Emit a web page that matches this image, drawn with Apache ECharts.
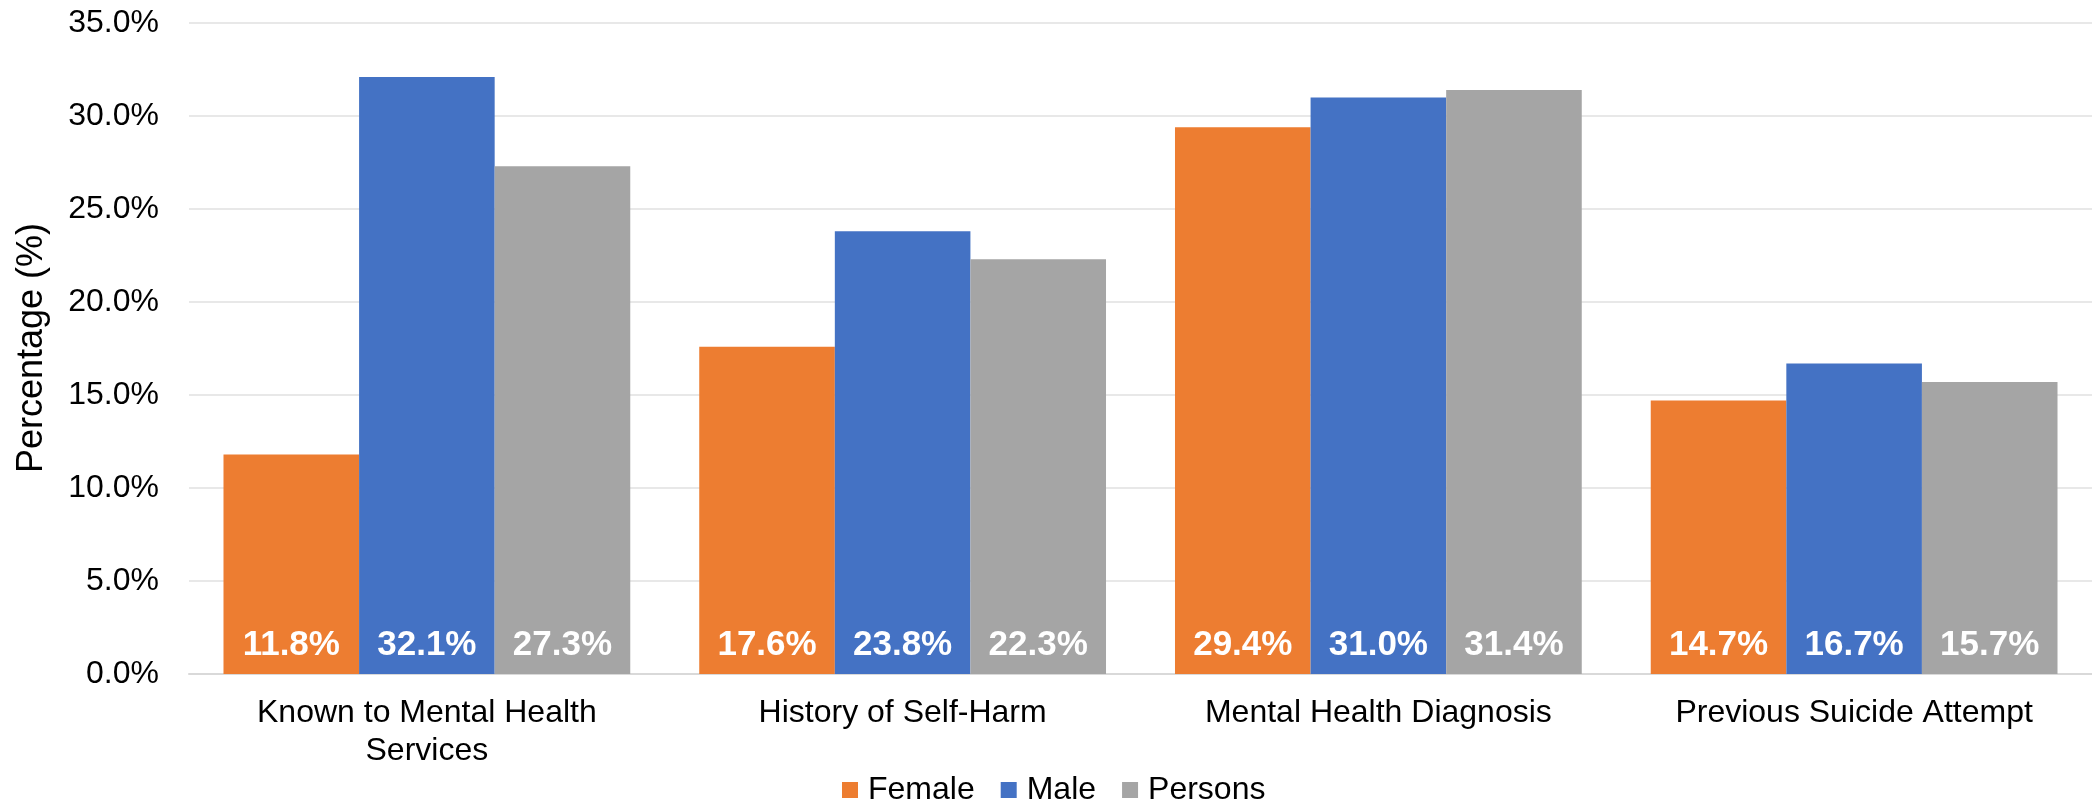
<!DOCTYPE html>
<html>
<head>
<meta charset="utf-8">
<script src="https://cdn.jsdelivr.net/npm/echarts@6/dist/echarts.min.js"></script>
<style>
  html, body { margin: 0; padding: 0; background: #fff; }
  #chart { width: 2092px; height: 803px; }
</style>
</head>
<body>
<div id="chart"></div>
<script>
const categories = [
  'Known to Mental Health\nServices',
  'History of Self-Harm',
  'Mental Health Diagnosis',
  'Previous Suicide Attempt'
];
const female = [11.8, 17.6, 29.4, 14.7];
const male = [32.1, 23.8, 31.0, 16.7];
const persons = [27.3, 22.3, 31.4, 15.7];
const yTicks = [0, 5, 10, 15, 20, 25, 30, 35];

const FONT = 'Liberation Sans, Arial, sans-serif';

function barSeries(name, data, color) {
  return {
    name,
    type: 'bar',
    data,
    barGap: '0%',
    barCategoryGap: '14.5%',
    itemStyle: { color },
    label: {
      show: true,
      position: 'insideBottom',
      distance: 11,
      color: '#fff',
      fontFamily: FONT,
      fontWeight: 'bold',
      fontSize: 35,
      formatter: p => p.value.toFixed(1) + '%'
    }
  };
}

const chart = echarts.init(document.getElementById('chart'), null, { renderer: 'canvas' });

chart.setOption({
  backgroundColor: '#fff',
  animation: false,
  grid: { left: 189, right: 0, top: 23, bottom: 129, containLabel: false },
  legend: {
    data: ['Female', 'Male', 'Persons'],
    left: 837,
    top: 769,
    icon: 'rect',
    itemWidth: 16,
    itemHeight: 16,
    itemGap: 26,
    textStyle: { fontFamily: FONT, fontSize: 32, color: '#000', padding: [0, 0, 0, 5] }
  },
  graphic: [{
    type: 'text',
    x: 32,
    y: 348,
    rotation: Math.PI / 2,
    style: {
      text: 'Percentage (%)',
      fontFamily: FONT,
      fontSize: 36,
      fill: '#000',
      align: 'center',
      verticalAlign: 'middle'
    }
  }],
  xAxis: {
    type: 'category',
    data: categories,
    axisTick: { show: false },
    axisLine: { lineStyle: { color: '#d9d9d9', width: 2 } },
    axisLabel: {
      margin: 20,
      fontFamily: FONT,
      fontSize: 32,
      lineHeight: 38,
      color: '#000',
      interval: 0
    }
  },
  yAxis: {
    type: 'value',
    min: yTicks[0],
    max: yTicks[yTicks.length - 1],
    interval: 5,
    axisLine: { show: false },
    axisTick: { show: false },
    splitLine: { lineStyle: { color: '#e8e8e8', width: 2 } },
    axisLabel: {
      margin: 30,
      fontFamily: FONT,
      fontSize: 32,
      color: '#000',
      formatter: v => v.toFixed(1) + '%'
    }
  },
  series: [
    barSeries('Female', female, '#ED7D31'),
    barSeries('Male', male, '#4472C4'),
    barSeries('Persons', persons, '#A5A5A5')
  ]
});
</script>
</body>
</html>
